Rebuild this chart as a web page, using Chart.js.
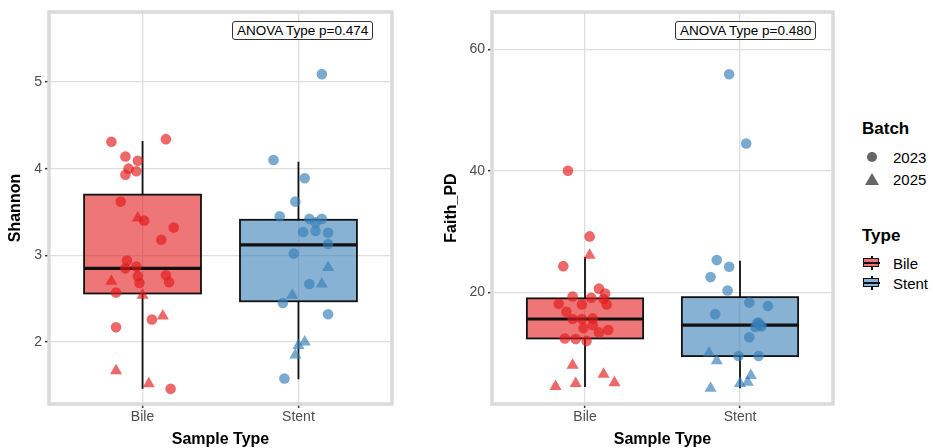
<!DOCTYPE html>
<html lang="en">
<head>
<meta charset="UTF-8">
<title>Shannon and Faith_PD by Sample Type</title>
<script src="https://cdn.jsdelivr.net/npm/chart.js"></script>
<style>
    body { margin: 0; background: #fff; font-family: "Liberation Sans", Arial, sans-serif; }
    #wrap { position: relative; width: 933px; height: 448px; overflow: hidden; }
    canvas { position: absolute; top: 0; }
    #shannonChart { left: 0; }
    #faithChart { left: 420px; }
    .anova {
        position: absolute; height: 17px; line-height: 17px; padding: 0 4px;
        border: 1px solid #333; border-radius: 3px; background: #fff;
        font-size: 13.5px; color: #000; white-space: nowrap;
    }
    .legend { position: absolute; left: 862px; color: #000; }
    .ltitle { position: absolute; font-weight: bold; font-size: 17px; line-height: 17px; white-space: nowrap; }
    .ltext { position: absolute; left: 31px; font-size: 15px; line-height: 15px; white-space: nowrap; }
    .dot { position: absolute; left: 5px; width: 10px; height: 10px; border-radius: 50%; background: #666; }
    .tri { position: absolute; left: 3px; width: 0; height: 0;
           border-left: 7px solid transparent; border-right: 7px solid transparent; border-bottom: 12px solid #666; }
    .key { position: absolute; left: 1px; width: 17px; height: 14px; }
    .key .bx { position: absolute; left: 0; top: 2px; width: 14px; height: 7px; border: 1.5px solid #111; }
    .key .md { position: absolute; left: 0; top: 6px; width: 17px; height: 2px; background: #111; }
    .key .wk { position: absolute; left: 7.5px; top: 0; width: 2px; height: 14px; background: #111; }
</style>
</head>
<body>
<div id="wrap">
    <canvas id="shannonChart" width="420" height="448"></canvas>
    <canvas id="faithChart" width="420" height="448"></canvas>

    <div class="anova" style="left:232px; top:21px;">ANOVA Type p=0.474</div>
    <div class="anova" style="left:675px; top:21px;">ANOVA Type p=0.480</div>

    <!-- legend -->
    <div class="legend" style="top:0">
        <div class="ltitle" style="top:120px">Batch</div>
        <div class="dot" style="top:152px"></div>
        <div class="ltext" style="top:150px">2023</div>
        <div class="tri" style="top:173px"></div>
        <div class="ltext" style="top:172px">2025</div>

        <div class="ltitle" style="top:227px">Type</div>
        <div class="key" style="top:256px"><div class="wk"></div><div class="bx" style="background:#EF6F72"></div><div class="md"></div></div>
        <div class="ltext" style="top:256px">Bile</div>
        <div class="key" style="top:276px"><div class="wk"></div><div class="bx" style="background:#86B1D4"></div><div class="md"></div></div>
        <div class="ltext" style="top:276px">Stent</div>
    </div>
</div>

<script>
    // categories and colours
    const categories = ['Bile', 'Stent'];
    const pointColors = ['rgba(228,26,28,0.66)', 'rgba(55,126,184,0.66)'];
    const boxColors = ['rgba(228,26,28,0.6)', 'rgba(55,126,184,0.6)'];

    // box stats: [lower whisker, Q1, median, Q3, upper whisker]
    const shannonBileBox = [1.46, 2.56, 2.85, 3.70, 4.32];
    const shannonStentBox = [1.57, 2.47, 3.12, 3.41, 4.08];
    const faithBileBox = [4.4, 12.4, 15.6, 19.0, 25.8];
    const faithStentBox = [4.2, 9.5, 14.6, 19.2, 25.2];

    // Shannon values (jitter = horizontal offset from category centre)
    const shannonBile2023 = [4.31, 4.34, 4.14, 4.09, 4.00, 3.97, 3.93, 3.62, 3.40, 3.32, 3.18, 2.94, 2.85, 2.87, 2.76, 2.77, 2.68, 2.69, 2.57, 2.26, 2.17, 1.46];
    const shannonBile2023Jitter = [-0.20, 0.15, -0.11, -0.03, -0.09, -0.04, -0.11, -0.14, 0.01, 0.20, 0.12, -0.10, -0.11, -0.04, -0.03, 0.15, -0.02, 0.17, -0.17, 0.06, -0.17, 0.18];
    const shannonBile2025 = [3.43, 2.70, 2.54, 2.30, 1.67, 1.52];
    const shannonBile2025Jitter = [-0.03, -0.20, 0.00, 0.13, -0.17, 0.04];
    const shannonStent2023 = [5.09, 4.10, 3.89, 3.62, 3.45, 3.42, 3.42, 3.38, 3.27, 3.28, 3.26, 3.13, 3.02, 2.67, 2.45, 2.32, 1.58];
    const shannonStent2023Jitter = [0.15, -0.16, 0.04, -0.02, -0.12, 0.07, 0.15, 0.11, 0.03, 0.11, 0.19, 0.19, -0.03, 0.07, -0.10, 0.19, -0.09];
    const shannonStent2025 = [2.86, 2.67, 2.54, 2.00, 1.96, 1.85];
    const shannonStent2025Jitter = [0.19, 0.15, -0.04, 0.04, 0.00, -0.02];

    // Faith_PD values
    const faithBile2023 = [40.0, 29.2, 24.3, 20.6, 19.8, 19.3, 19.1, 18.9, 18.1, 18.0, 18.0, 16.8, 15.6, 15.6, 15.7, 14.6, 14.1, 13.4, 13.8, 12.4, 12.3, 12.0];
    const faithBile2023Jitter = [-0.11, 0.03, -0.14, 0.09, 0.13, -0.08, 0.04, 0.12, -0.17, -0.02, 0.14, -0.12, -0.08, -0.02, 0.05, 0.05, -0.01, 0.09, 0.15, -0.13, -0.06, 0.01];
    const faithBile2025 = [26.1, 8.0, 6.5, 5.1, 4.5, 5.0];
    const faithBile2025Jitter = [0.03, -0.08, 0.12, 0.19, -0.19, -0.06];
    const faithStent2023 = [55.9, 44.5, 25.3, 24.2, 22.5, 20.3, 18.3, 17.75, 16.4, 15.0, 14.6, 14.3, 12.6, 9.5, 9.5, 14.9, 14.4];
    const faithStent2023Jitter = [-0.07, 0.04, -0.15, -0.07, -0.19, -0.08, 0.06, 0.18, -0.16, 0.12, 0.13, 0.10, 0.06, -0.01, 0.12, 0.11, 0.14];
    const faithStent2025 = [10.0, 8.75, 6.3, 5.2, 5.0, 4.2];
    const faithStent2025Jitter = [-0.20, -0.15, 0.07, 0.05, 0.00, -0.19];

    const BOX_WIDTH = 0.75;

    function toPoints(catIndex, values, jitter) {
        return values.map((v, i) => ({ x: catIndex + 1 + jitter[i], y: v }));
    }

    function pointSet(catIndex, values, jitter, shape) {
        return {
            data: toPoints(catIndex, values, jitter),
            pointStyle: shape,
            pointRadius: shape === 'triangle' ? 7 : 5.3,
            backgroundColor: pointColors[catIndex],
            borderWidth: 0,
            pointHoverRadius: 0
        };
    }

    // draws boxes and whiskers through the chart's scales, under the points
    const boxPlugin = {
        id: 'boxes',
        beforeDatasetsDraw(chart, args, opts) {
            const { ctx, scales: { x, y } } = chart;
            opts.stats.forEach((s, i) => {
                const cx = x.getPixelForValue(i + 1);
                const x0 = x.getPixelForValue(i + 1 - BOX_WIDTH / 2);
                const x1 = x.getPixelForValue(i + 1 + BOX_WIDTH / 2);
                const [lo, q1, med, q3, hi] = s.map(v => y.getPixelForValue(v));
                ctx.save();
                ctx.strokeStyle = '#111';
                ctx.lineWidth = 1.8;
                ctx.beginPath();
                ctx.moveTo(cx, q3); ctx.lineTo(cx, hi);
                ctx.moveTo(cx, q1); ctx.lineTo(cx, lo);
                ctx.stroke();
                ctx.fillStyle = boxColors[i];
                ctx.fillRect(x0, q3, x1 - x0, q1 - q3);
                ctx.strokeRect(x0, q3, x1 - x0, q1 - q3);
                ctx.lineWidth = 3.2;
                ctx.beginPath();
                ctx.moveTo(x0, med); ctx.lineTo(x1, med);
                ctx.stroke();
                ctx.restore();
            });
        },
        afterDraw(chart) {
            const { ctx, chartArea: a } = chart;
            ctx.save();
            ctx.strokeStyle = '#DADADA';
            ctx.lineWidth = 3.5;
            ctx.strokeRect(a.left, a.top, a.right - a.left, a.bottom - a.top);
            ctx.restore();
        }
    };

    function makeChart(id, cfg) {
        const font = { family: '"Liberation Sans", Arial, sans-serif' };
        new Chart(document.getElementById(id), {
            type: 'scatter',
            data: { datasets: cfg.datasets },
            plugins: [boxPlugin],
            options: {
                responsive: false,
                animation: false,
                events: [],
                layout: { padding: { top: 12, right: cfg.padRight, left: 0, bottom: 0 } },
                plugins: {
                    legend: { display: false },
                    tooltip: { enabled: false },
                    boxes: { stats: cfg.stats }
                },
                scales: {
                    x: {
                        type: 'linear',
                        min: 0.4, max: 2.6,
                        afterFit: s => { s.height = 44; },
                        grid: { color: '#DEDEDE', lineWidth: 1.3, tickColor: '#333', tickLength: 4, tickWidth: 1.5 },
                        border: { display: false },
                        ticks: {
                            stepSize: 1, includeBounds: false, padding: 1,
                            color: '#4D4D4D', font: { ...font, size: 14 },
                            callback: v => categories[v - 1]
                        },
                        title: {
                            display: true, text: 'Sample Type', color: '#000',
                            font: { ...font, size: 16, weight: 'bold', lineHeight: 1 },
                            padding: { top: 0, bottom: 0 }
                        }
                    },
                    y: {
                        min: cfg.yMin, max: cfg.yMax,
                        afterFit: s => { s.width = cfg.yWidth; },
                        grid: { color: '#DEDEDE', lineWidth: 1.3, tickColor: '#333', tickLength: 4, tickWidth: 1.5 },
                        border: { display: false },
                        ticks: {
                            stepSize: cfg.yStep, includeBounds: false, padding: 3,
                            color: '#4D4D4D', font: { ...font, size: 14 }
                        },
                        title: {
                            display: true, text: cfg.yTitle, color: '#000',
                            font: { ...font, size: 16, weight: 'bold', lineHeight: 1 },
                            padding: { top: cfg.titlePad, bottom: 0 }
                        }
                    }
                }
            }
        });
    }

    makeChart('shannonChart', {
        yTitle: 'Shannon', yMin: 1.285, yMax: 5.807, yStep: 1,
        yWidth: 49, padRight: 28, titlePad: 8,
        stats: [shannonBileBox, shannonStentBox],
        datasets: [
            pointSet(0, shannonBile2023, shannonBile2023Jitter, 'circle'),
            pointSet(0, shannonBile2025, shannonBile2025Jitter, 'triangle'),
            pointSet(1, shannonStent2023, shannonStent2023Jitter, 'circle'),
            pointSet(1, shannonStent2025, shannonStent2025Jitter, 'triangle')
        ]
    });

    makeChart('faithChart', {
        yTitle: 'Faith_PD', yMin: 1.61, yMax: 66.14, yStep: 20,
        yWidth: 72, padRight: 6, titlePad: 24,
        stats: [faithBileBox, faithStentBox],
        datasets: [
            pointSet(0, faithBile2023, faithBile2023Jitter, 'circle'),
            pointSet(0, faithBile2025, faithBile2025Jitter, 'triangle'),
            pointSet(1, faithStent2023, faithStent2023Jitter, 'circle'),
            pointSet(1, faithStent2025, faithStent2025Jitter, 'triangle')
        ]
    });
</script>
</body>
</html>
